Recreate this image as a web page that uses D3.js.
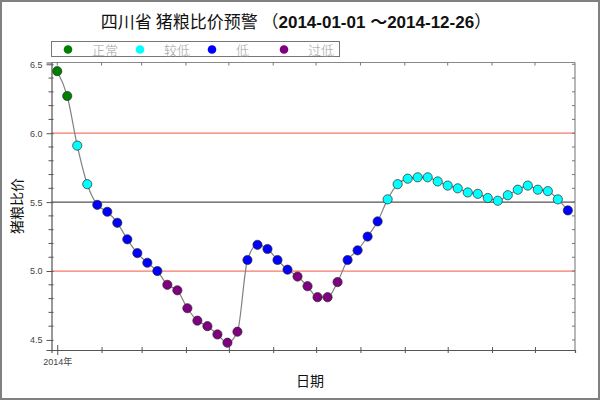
<!DOCTYPE html>
<html><head><meta charset="utf-8">
<script src="https://cdn.jsdelivr.net/npm/d3@7"></script>
<style>
html,body{margin:0;padding:0;background:#fff;}
svg{display:block;}
</style></head>
<body>
<svg id="chart" width="600" height="400"></svg>
<script>
const dates = ["2014-01-01","2014-01-08","2014-01-15","2014-01-22","2014-01-29","2014-02-05","2014-02-12","2014-02-19","2014-02-26",
"2014-03-05","2014-03-12","2014-03-19","2014-03-26","2014-04-02","2014-04-09","2014-04-16","2014-04-23","2014-04-30",
"2014-05-07","2014-05-14","2014-05-21","2014-05-28","2014-06-04","2014-06-11","2014-06-18","2014-06-25",
"2014-07-02","2014-07-09","2014-07-16","2014-07-23","2014-07-30","2014-08-06","2014-08-13","2014-08-20","2014-08-27",
"2014-09-03","2014-09-10","2014-09-17","2014-09-24","2014-10-01","2014-10-08","2014-10-15","2014-10-22","2014-10-29",
"2014-11-05","2014-11-12","2014-11-19","2014-11-26","2014-12-03","2014-12-10","2014-12-17","2014-12-24"];
const ratios = [6.45,6.27,5.91,5.63,5.48,5.43,5.35,5.23,5.13,5.06,5.00,4.90,4.86,4.73,4.64,4.60,4.54,4.48,4.56,
5.08,5.19,5.16,5.08,5.01,4.96,4.89,4.81,4.81,4.92,5.08,5.15,5.25,5.36,5.52,5.63,5.67,5.68,5.68,5.65,5.62,5.60,
5.57,5.56,5.53,5.51,5.55,5.59,5.62,5.59,5.58,5.52,5.44];
const levelNames = ["正常","较低","低","过低"];
const levelThresholds = [6.0, 5.5, 5.0, -Infinity];
const yTickValues = [4.5, 5.0, 5.5, 6.0, 6.5];
const warnLines = [6.0, 5.0];
const midLine = [5.5];
const xDomain = ["2013-12-28","2014-12-29"];
const titleMain = "四川省 猪粮比价预警 （";
const titleDates = "2014-01-01 ～2014-12-26";
const titleEnd = "）";
const yLabel = "猪粮比价";
const xLabel = "日期";
const firstTickLabel = "2014年";

const levelColors = ["#007f00","#00ffff","#0000ff","#800080"];
const parse = d3.timeParse("%Y-%m-%d");
const data = dates.map((d,i)=>({date:parse(d), v:ratios[i]}));
function level(v){ for(let i=0;i<levelThresholds.length;i++){ if(v>=levelThresholds[i]) return i; } return 3; }

const svg = d3.select("#chart");
const L=51.5, R=575, T=62.5, B=350;
const x = d3.scaleTime().domain(xDomain.map(parse)).range([L,R]);
const y = d3.scaleLinear().domain([4.427, 6.513]).range([B,T]);

// outer frame
svg.append("rect").attr("x",1).attr("y",1).attr("width",598).attr("height",398)
  .attr("fill","none").attr("stroke","#808080").attr("stroke-width",2);

// title
const title = svg.append("text").attr("x",296).attr("y",28).attr("text-anchor","middle")
  .attr("font-family","'Liberation Sans','Noto Sans CJK SC',sans-serif").attr("font-size",17).attr("fill","#111");
title.append("tspan").attr("font-family","'Noto Sans CJK SC',sans-serif").text(titleMain);
title.append("tspan").attr("font-weight","bold").text(titleDates);
title.append("tspan").attr("font-family","'Noto Sans CJK SC',sans-serif").text(titleEnd);

// legend
const lg = svg.append("g");
lg.append("rect").attr("x",51.5).attr("y",41.5).attr("width",288).attr("height",15)
  .attr("fill","#fff").attr("stroke","#777").attr("stroke-width",1);
levelNames.forEach((n,i)=>{
  const cx = 68 + i*72;
  lg.append("circle").attr("cx",cx).attr("cy",49.5).attr("r",4.3).attr("fill",levelColors[i]);
  lg.append("text").attr("x",cx+24).attr("y",54.5).attr("font-family","'Noto Sans CJK SC',sans-serif")
    .attr("font-size",13).attr("font-weight",300).attr("fill","#a0a0a0").text(n);
});

// grid/ref lines
svg.selectAll(".warn").data(warnLines).enter().append("line")
  .attr("x1",L).attr("x2",R).attr("y1",d=>y(d)).attr("y2",d=>y(d))
  .attr("stroke","#f47a6a").attr("stroke-width",1.2);
svg.selectAll(".mid").data(midLine).enter().append("line")
  .attr("x1",L).attr("x2",R).attr("y1",d=>y(d)).attr("y2",d=>y(d))
  .attr("stroke","#555").attr("stroke-width",1.2);

// frame top/right
svg.append("line").attr("x1",L).attr("x2",R).attr("y1",T).attr("y2",T).attr("stroke","#888").attr("stroke-width",1.2);
svg.append("line").attr("x1",R).attr("x2",R).attr("y1",T).attr("y2",B).attr("stroke","#888").attr("stroke-width",1.2);

const minorY = d3.range(45,66).map(d=>d/10).filter(d=>Math.abs(d*2-Math.round(d*2))>1e-6);
const monthTicks = d3.timeMonth.range(parse("2014-01-01"), parse("2014-12-29"));

// left axis
const ya = svg.append("g").attr("transform",`translate(${L},0)`)
  .call(d3.axisLeft(y).tickValues(yTickValues).tickFormat(d3.format(".1f")).tickSize(5).tickPadding(4));
ya.select(".domain").attr("stroke","#555").attr("stroke-width",1.2);
ya.selectAll(".tick line").attr("stroke","#555").attr("x2",-5).attr("x1",2);
ya.selectAll(".tick text").attr("font-family","'Liberation Sans',Arial,sans-serif").attr("font-size",9).attr("fill","#444");
svg.append("g").selectAll("line").data(minorY).enter().append("line")
  .attr("x1",L-3).attr("x2",L+2).attr("y1",d=>y(d)).attr("y2",d=>y(d)).attr("stroke","#555");
// right axis ticks
svg.append("g").selectAll("line").data(minorY.concat(yTickValues)).enter().append("line")
  .attr("x1",R-3).attr("x2",R).attr("y1",d=>y(d)).attr("y2",d=>y(d)).attr("stroke","#777");
// top axis ticks
svg.append("g").selectAll("line").data(monthTicks).enter().append("line")
  .attr("x1",d=>x(d)).attr("x2",d=>x(d)).attr("y1",T).attr("y2",T+3).attr("stroke","#777");

// bottom axis
const xa = svg.append("g").attr("transform",`translate(0,${B})`)
  .call(d3.axisBottom(x).tickValues(monthTicks).tickSize(3).tickPadding(6)
    .tickFormat((d,i)=> i===0 ? firstTickLabel : ""));
xa.select(".domain").attr("stroke","#555").attr("stroke-width",1.2);
xa.selectAll(".tick line").attr("stroke","#555").attr("y1",(d,i)=> i===0?-5:-3).attr("y2",(d,i)=>i===0?5:3);
xa.selectAll(".tick text").attr("font-family","'Liberation Sans','Noto Sans CJK SC',sans-serif").attr("font-size",9).attr("fill","#444");

// axis titles
svg.append("text").attr("transform","translate(22,206) rotate(-90)").attr("text-anchor","middle")
  .attr("font-family","'Noto Sans CJK SC',sans-serif").attr("font-size",14).attr("fill","#111").text(yLabel);
svg.append("text").attr("x",310).attr("y",386).attr("text-anchor","middle")
  .attr("font-family","'Noto Sans CJK SC',sans-serif").attr("font-size",14).attr("fill","#111").text(xLabel);

// line
const line = d3.line().x(d=>x(d.date)).y(d=>y(d.v)).curve(d3.curveMonotoneX);
svg.append("path").datum(data).attr("d",line).attr("fill","none").attr("stroke","#808080").attr("stroke-width",1.2);

// points
svg.append("g").selectAll("circle").data(data).enter().append("circle")
  .attr("cx",d=>x(d.date)).attr("cy",d=>y(d.v)).attr("r",4.6)
  .attr("fill",d=>levelColors[level(d.v)]).attr("stroke","#2a2a2a").attr("stroke-width",0.7);
</script>
</body></html>
